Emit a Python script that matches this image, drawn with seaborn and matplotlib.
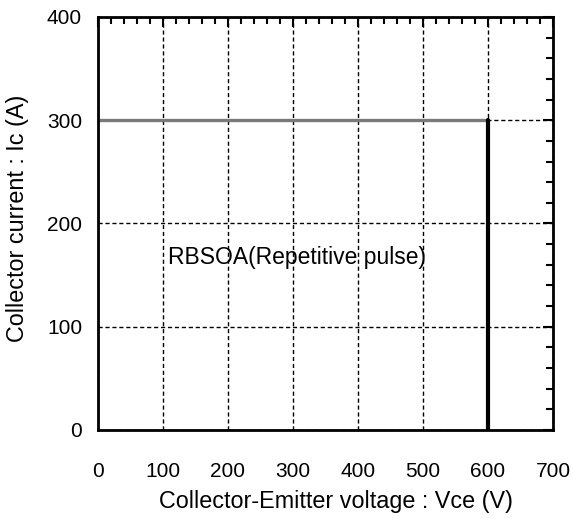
import numpy as np
import pandas as pd
import matplotlib
matplotlib.use("Agg")
import matplotlib.pyplot as plt
import seaborn as sns
from matplotlib.ticker import MultipleLocator

# RBSOA boundary (Vce in V, Ic in A)
vce = [0, 600, 600]
ic = [300, 300, 0]

x_ticks = [0, 100, 200, 300, 400, 500, 600, 700]
y_ticks = [0, 100, 200, 300, 400]
label_text = "RBSOA(Repetitive pulse)"
label_pos = (108, 167)

sns.set_style("white")
plt.rcParams['font.family'] = ['Liberation Sans', 'DejaVu Sans']
plt.rcParams['text.color'] = 'black'
plt.rcParams['axes.labelcolor'] = 'black'

fig = plt.figure(figsize=(5.73, 5.19), dpi=100)
ax = fig.add_axes([0.171, 0.1715, 0.794, 0.7958])

df = pd.DataFrame({"vce": vce, "ic": ic})
# horizontal limit (gray) and vertical limit (black)
sns.lineplot(data=df.iloc[:2], x="vce", y="ic", ax=ax, color="#7a7a7a", lw=2.4,
             sort=False, estimator=None)
sns.lineplot(data=df.iloc[1:], x="vce", y="ic", ax=ax, color="black", lw=3,
             sort=False, estimator=None)

ax.set_xlim(0, 700)
ax.set_ylim(0, 400)
ax.set_xticks(x_ticks)
ax.set_yticks(y_ticks)
ax.xaxis.set_minor_locator(MultipleLocator(20))
ax.yaxis.set_minor_locator(MultipleLocator(20))
ax.tick_params(which="both", direction="in", top=True, right=True, width=1.5, colors="black")
ax.tick_params(which="major", length=7, labelsize=15)
ax.tick_params(axis="x", which="major", pad=23)
ax.tick_params(axis="y", which="major", pad=11.5)
ax.tick_params(which="minor", length=5)
ax.grid(True, which="major", ls=(0, (3, 2)), color="black", lw=1)
ax.set_axisbelow(True)
for s in ax.spines.values():
    s.set_linewidth(2)
    s.set_color("black")

ax.text(label_pos[0], label_pos[1], label_text, fontsize=16.5, ha="left", va="center")
ax.set_xlabel("Collector-Emitter voltage : Vce (V)", fontsize=16.8)
ax.set_ylabel("Collector current : Ic (A)", fontsize=16.8)
ax.xaxis.set_label_coords(0.523, -0.145)
ax.yaxis.set_label_coords(-0.151, 0.513)

fig.savefig("out.png", dpi=100)
